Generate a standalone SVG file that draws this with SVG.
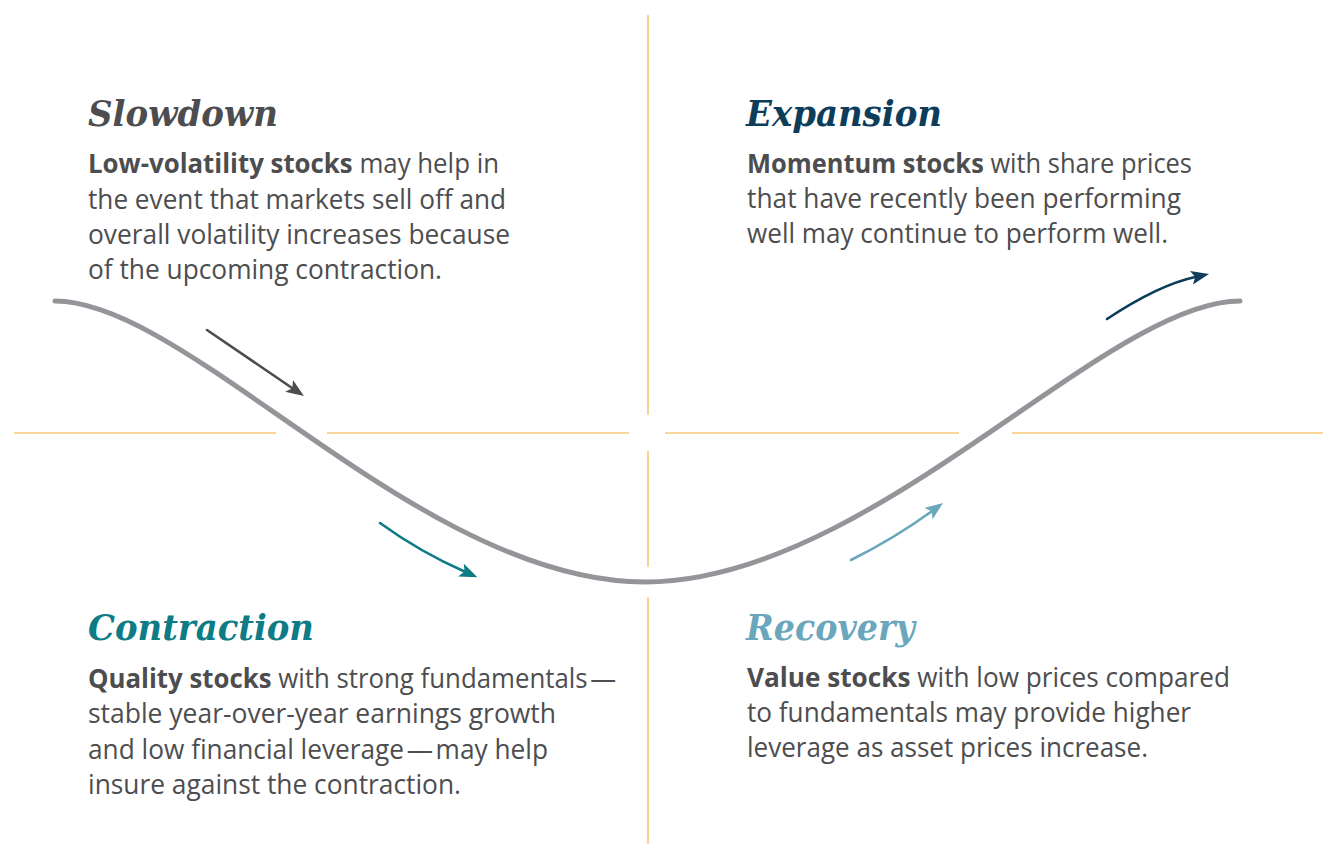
<svg xmlns="http://www.w3.org/2000/svg" width="1323" height="844" viewBox="0 0 1323 844">
  <defs>
    <style>
      .axis { stroke: #F7C978; stroke-width: 1.6; fill: none; }
      .cycle { stroke: #939598; stroke-width: 5; fill: none; stroke-linecap: round; }
      .arrow { stroke-width: 2.6; fill: none; stroke-linecap: round; }
      .title { font-family: "DejaVu Serif", "Liberation Serif", serif; font-style: italic; font-weight: 700; font-size: 35px; }
      .body { font-family: "Open Sans", "Noto Sans", "Liberation Sans", sans-serif; font-size: 26.5px; fill: #4D4D4F; }
      .body tspan.b { font-weight: 700; }
    </style>
    <marker id="head-gray" markerUnits="userSpaceOnUse" markerWidth="18" markerHeight="14" refX="5" refY="7" orient="auto">
      <path d="M0,0 L18,7 L0,14 L4,7 z" fill="#4D4D4F"/>
    </marker>
    <marker id="head-teal" markerUnits="userSpaceOnUse" markerWidth="18" markerHeight="14" refX="5" refY="7" orient="auto">
      <path d="M0,0 L18,7 L0,14 L4,7 z" fill="#0E7C86"/>
    </marker>
    <marker id="head-sky" markerUnits="userSpaceOnUse" markerWidth="18" markerHeight="14" refX="5" refY="7" orient="auto">
      <path d="M0,0 L18,7 L0,14 L4,7 z" fill="#6AA7BD"/>
    </marker>
    <marker id="head-navy" markerUnits="userSpaceOnUse" markerWidth="18" markerHeight="14" refX="5" refY="7" orient="auto">
      <path d="M0,0 L18,7 L0,14 L4,7 z" fill="#0D3D5A"/>
    </marker>
  </defs>

  <rect width="1323" height="844" fill="#FFFFFF"/>

  <!-- quadrant axes, broken where the cycle curve passes -->
  <g id="axes">
    <line class="axis" x1="648" y1="15" x2="648" y2="415"/>
    <line class="axis" x1="648" y1="451" x2="648" y2="567"/>
    <line class="axis" x1="648" y1="597" x2="648" y2="844"/>
    <line class="axis" x1="14" y1="433" x2="276" y2="433"/>
    <line class="axis" x1="327" y1="433" x2="629" y2="433"/>
    <line class="axis" x1="665" y1="433" x2="959" y2="433"/>
    <line class="axis" x1="1012" y1="433" x2="1323" y2="433"/>
  </g>

  <!-- business cycle curve -->
  <g id="cycle-curve">
    <path class="cycle" d="M55,301 C190,301 420,582 645,582 C870,582 1105,301 1240,301"/>
  </g>

  <!-- phase direction arrows -->
  <g id="connectors">
    <path class="arrow" stroke="#4D4D4F" marker-end="url(#head-gray)" d="M207,330 L293.2,388.7"/>
    <path class="arrow" stroke="#0E7C86" marker-end="url(#head-teal)" d="M380,523 Q420,552 465.5,572"/>
    <path class="arrow" stroke="#6AA7BD" marker-end="url(#head-sky)" d="M851,560 Q895,538 932.5,510.7"/>
    <path class="arrow" stroke="#0D3D5A" marker-end="url(#head-navy)" d="M1107,319 Q1158.5,284.7 1196.3,276.7"/>
  </g>

  <g id="slowdown">
    <text class="title" x="88" y="126" fill="#4D4D4F" textLength="190" lengthAdjust="spacingAndGlyphs">Slowdown</text>
    <text class="body" x="88" y="173" textLength="411" lengthAdjust="spacingAndGlyphs"><tspan class="b">Low-volatility stocks</tspan> may help in</text>
    <text class="body" x="88" y="208.5" textLength="418" lengthAdjust="spacingAndGlyphs">the event that markets sell off and</text>
    <text class="body" x="88" y="244" textLength="422" lengthAdjust="spacingAndGlyphs">overall volatility increases because</text>
    <text class="body" x="88" y="279" textLength="354" lengthAdjust="spacingAndGlyphs">of the upcoming contraction.</text>
  </g>

  <g id="expansion">
    <text class="title" x="746" y="126" fill="#0D3D5A" textLength="196" lengthAdjust="spacingAndGlyphs">Expansion</text>
    <text class="body" x="747" y="172.5" textLength="445" lengthAdjust="spacingAndGlyphs"><tspan class="b">Momentum stocks</tspan> with share prices</text>
    <text class="body" x="747" y="207.5" textLength="434" lengthAdjust="spacingAndGlyphs">that have recently been performing</text>
    <text class="body" x="747" y="242.5" textLength="421" lengthAdjust="spacingAndGlyphs">well may continue to perform well.</text>
  </g>

  <g id="contraction">
    <text class="title" x="88" y="640" fill="#0E7C86" textLength="226" lengthAdjust="spacingAndGlyphs">Contraction</text>
    <text class="body" x="88" y="687.5" textLength="528" lengthAdjust="spacingAndGlyphs"><tspan class="b">Quality stocks</tspan> with strong fundamentals&#8202;—</text>
    <text class="body" x="88" y="723" textLength="468" lengthAdjust="spacingAndGlyphs">stable year-over-year earnings growth</text>
    <text class="body" x="88" y="758.5" textLength="460" lengthAdjust="spacingAndGlyphs">and low financial leverage&#8202;—&#8202;may help</text>
    <text class="body" x="88" y="793.5" textLength="373" lengthAdjust="spacingAndGlyphs">insure against the contraction.</text>
  </g>

  <g id="recovery">
    <text class="title" x="746" y="640" fill="#6AA7BD" textLength="169" lengthAdjust="spacingAndGlyphs">Recovery</text>
    <text class="body" x="747" y="686.5" textLength="483" lengthAdjust="spacingAndGlyphs"><tspan class="b">Value stocks</tspan> with low prices compared</text>
    <text class="body" x="747" y="721.5" textLength="444" lengthAdjust="spacingAndGlyphs">to fundamentals may provide higher</text>
    <text class="body" x="747" y="756.5" textLength="401" lengthAdjust="spacingAndGlyphs">leverage as asset prices increase.</text>
  </g>
</svg>
